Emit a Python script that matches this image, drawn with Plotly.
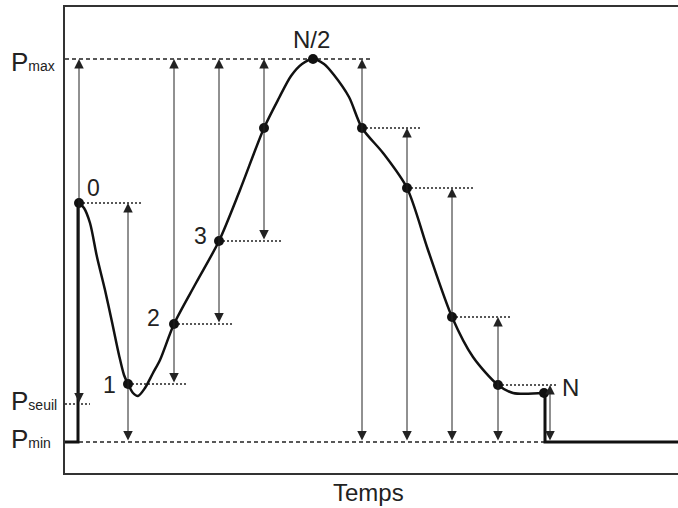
import plotly.graph_objects as go

# ---- data (time units / pressure units) ----
P_MAX = 383
P_MIN = 0
P_SEUIL = 38
T_END = 613

curve_t = [14, 19, 25, 32, 40, 47, 54, 59, 63, 68, 73, 80, 88, 95, 109, 131, 154, 175, 199,
           214, 226, 237, 248, 259, 269, 284, 297, 318, 342, 363, 387, 408, 433, 448, 479]
curve_p = [239, 234, 219, 185, 152, 120, 87, 67, 58, 49, 46, 54, 69, 82, 118, 159, 201, 252, 314,
           344, 366, 378, 383, 378, 367, 345, 314, 289, 254, 192, 125, 85, 57, 49, 49]

sample_t = [14, 63, 109, 154, 199, 248, 297, 342, 387, 433, 479]
sample_p = [239, 58, 118, 201, 314, 383, 314, 254, 125, 57, 49]
sample_labels = ["0", "1", "2", "3", "", "N/2", "", "", "", "", "N"]

# start / end of the cycle (pressure jumps)
start_t = [0, 13, 13]
start_p = [P_MIN, P_MIN, 239]
end_t = [480, 480, T_END]
end_p = [49, P_MIN, P_MIN]

# level lines drawn from a sample to the right
level_t0 = [14, 63, 109, 154, 297, 342, 387, 433]
level_t1 = [76, 123, 167, 218, 355, 408, 446, 491]
level_p = [239, 58, 118, 201, 314, 254, 125, 57]

# double arrows: position, top value, bottom value
arrow_t = [14, 63, 109, 154, 199, 297, 342, 387, 433, 485]
arrow_top = [383, 239, 383, 383, 383, 383, 314, 254, 125, 57]
arrow_bot = [38, 0, 58, 118, 201, 0, 0, 0, 0, 0]

fig = go.Figure()

# reference lines
fig.add_trace(go.Scatter(x=[0, 307], y=[P_MAX, P_MAX], mode="lines",
                         line=dict(color="#222", width=1.3, dash="4px,3px"), hoverinfo="skip"))
fig.add_trace(go.Scatter(x=[0, 480], y=[P_MIN, P_MIN], mode="lines",
                         line=dict(color="#222", width=1.3, dash="4px,3px"), hoverinfo="skip"))
fig.add_trace(go.Scatter(x=[0, 25], y=[P_SEUIL, P_SEUIL], mode="lines",
                         line=dict(color="#222", width=1.3, dash="2px,2px"), hoverinfo="skip"))
for a, b, p in zip(level_t0, level_t1, level_p):
    fig.add_trace(go.Scatter(x=[a, b], y=[p, p], mode="lines",
                             line=dict(color="#222", width=1.3, dash="2px,2px"), hoverinfo="skip"))

# pressure curve
fig.add_trace(go.Scatter(x=curve_t, y=curve_p, mode="lines",
                         line=dict(color="#111", width=2.5, shape="spline", smoothing=0.8),
                         hoverinfo="skip"))
fig.add_trace(go.Scatter(x=start_t, y=start_p, mode="lines",
                         line=dict(color="#111", width=3), hoverinfo="skip"))
fig.add_trace(go.Scatter(x=end_t, y=end_p, mode="lines",
                         line=dict(color="#111", width=3), hoverinfo="skip"))
fig.add_trace(go.Scatter(x=sample_t, y=sample_p, mode="markers",
                         marker=dict(color="#111", size=10), hoverinfo="skip"))

ann = []
for t, top, bot in zip(arrow_t, arrow_top, arrow_bot):
    ann.append(dict(x=t, y=top, ax=t, ay=bot, xref="x", yref="y", axref="x", ayref="y",
                    text="", showarrow=True, arrowhead=2, arrowside="end+start",
                    arrowsize=1.9, arrowwidth=1, arrowcolor="#222", standoff=0, startstandoff=0))

label_dx = {"0": 14, "1": -19, "2": -21, "3": -19, "N/2": -2, "N": 26}
label_dy = {"0": 15, "1": -1, "2": 6, "3": 5, "N/2": 20, "N": 6}
label_size = {"0": 23, "1": 23, "2": 23, "3": 23, "N/2": 24, "N": 24}
for t, p, lab in zip(sample_t, sample_p, sample_labels):
    if not lab:
        continue
    ann.append(dict(x=t + label_dx[lab], y=p + label_dy[lab], xref="x", yref="y", text=lab,
                    showarrow=False, font=dict(size=label_size[lab], color="#222"),
                    xanchor="center", yanchor="middle"))

left_labels = [("P<span style='font-size:14px'>max</span>", P_MAX, -3),
               ("P<span style='font-size:14px'>seuil</span>", P_SEUIL, 3),
               ("P<span style='font-size:14px'>min</span>", P_MIN, 3)]
for txt, p, ys in left_labels:
    ann.append(dict(x=-56 / T_END, y=p, xref="paper", yref="y", text=txt, showarrow=False,
                    font=dict(size=26, color="#222"), xanchor="left", yanchor="middle", yshift=ys))

ann.append(dict(x=0.495, y=-19 / 466, xref="paper", yref="paper", text="Temps", showarrow=False,
                font=dict(size=24, color="#222"), xanchor="center", yanchor="middle"))

fig.update_layout(
    width=678, height=508,
    margin=dict(l=65, r=0, t=7, b=35),
    paper_bgcolor="white", plot_bgcolor="white",
    showlegend=False,
    font=dict(family="Liberation Sans, Arial, sans-serif"),
    annotations=ann,
    xaxis=dict(range=[0, T_END], showgrid=False, zeroline=False, showticklabels=False,
               ticks="", showline=True, mirror=True, linecolor="#333", linewidth=2),
    yaxis=dict(range=[-31, 435], showgrid=False, zeroline=False, showticklabels=False,
               ticks="", showline=True, linecolor="#333", linewidth=2),
)

fig.write_html("out.html", config={"displayModeBar": False},
               post_script="document.body.style.margin='0';")
